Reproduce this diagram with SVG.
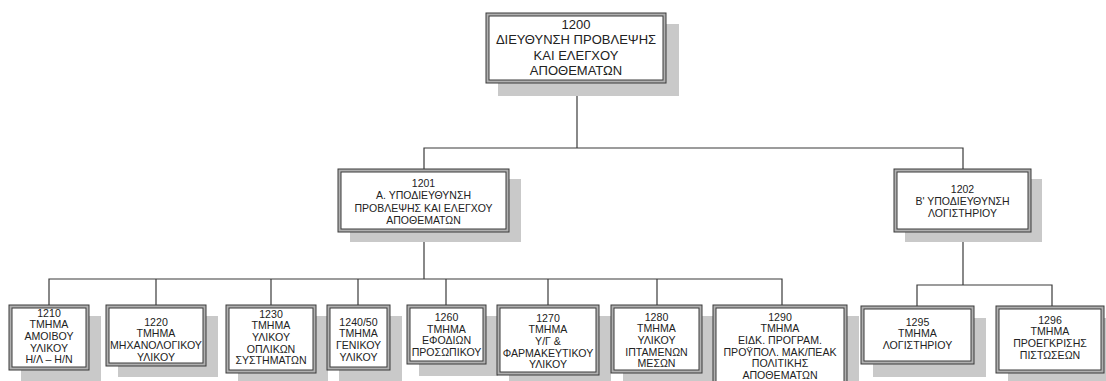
<svg xmlns="http://www.w3.org/2000/svg" width="1106" height="381" viewBox="0 0 1106 381">
<style>
.sh{fill:#c9c9c9;stroke:none}
.bo{fill:#b0b0b0;stroke:#3a3a3a;stroke-width:1}
.bi{fill:#ffffff;stroke:#3a3a3a;stroke-width:1}
.c{fill:none;stroke:#3a3a3a;stroke-width:1.2}
text{font-family:"Liberation Sans",Arial,sans-serif;fill:#222222;text-anchor:middle}
.t1{font-size:13px}
.t2{font-size:10.5px}
.t3{font-size:10.6px}
</style>
<rect width="1106" height="381" fill="#ffffff"/>
<g id="connectors">
<polyline class="c" points="577,83 577,148"/>
<polyline class="c" points="424,169 424,148 963,148 963,169"/>
<polyline class="c" points="424,232 424,279"/>
<polyline class="c" points="49,305 49,279 782,279 782,305"/>
<line class="c" x1="156" y1="279" x2="156" y2="305"/>
<line class="c" x1="271" y1="279" x2="271" y2="305"/>
<line class="c" x1="358" y1="279" x2="358" y2="305"/>
<line class="c" x1="446" y1="279" x2="446" y2="305"/>
<line class="c" x1="548" y1="279" x2="548" y2="305"/>
<line class="c" x1="657" y1="279" x2="657" y2="305"/>
<polyline class="c" points="963,232 963,285"/>
<polyline class="c" points="917,306 917,285 1052,285 1052,306"/>
</g>
<g id="n1200">
<rect class="sh" x="498" y="24" width="181" height="72"/>
<rect class="bo" x="486" y="13" width="180" height="70"/>
<rect class="bi" x="489" y="16" width="174" height="64"/>
<text class="t1"><tspan x="576" y="28.5">1200</tspan><tspan x="576" y="44">ΔΙΕΥΘΥΝΣΗ ΠΡΟΒΛΕΨΗΣ</tspan><tspan x="576" y="59.5">ΚΑΙ ΕΛΕΓΧΟΥ</tspan><tspan x="576" y="75">ΑΠΟΘΕΜΑΤΩΝ</tspan></text>
</g>
<g id="n1201">
<rect class="sh" x="350" y="179" width="171" height="63"/>
<rect class="bo" x="338" y="169" width="171" height="63"/>
<rect class="bi" x="341" y="172" width="165" height="57"/>
<text class="t2"><tspan x="423.5" y="186.7">1201</tspan><tspan x="423.5" y="199.2">Α. ΥΠΟΔΙΕΥΘΥΝΣΗ</tspan><tspan x="423.5" y="211.7">ΠΡΟΒΛΕΨΗΣ ΚΑΙ ΕΛΕΓΧΟΥ</tspan><tspan x="423.5" y="224.2">ΑΠΟΘΕΜΑΤΩΝ</tspan></text>
</g>
<g id="n1202">
<rect class="sh" x="905" y="179" width="137" height="63"/>
<rect class="bo" x="894" y="169" width="137" height="63"/>
<rect class="bi" x="897" y="172" width="131" height="57"/>
<text class="t2"><tspan x="962.5" y="192.7">1202</tspan><tspan x="962.5" y="204.7">Β' ΥΠΟΔΙΕΥΘΥΝΣΗ</tspan><tspan x="962.5" y="216.7">ΛΟΓΙΣΤΗΡΙΟΥ</tspan></text>
</g>
<g id="n1210">
<rect class="sh" x="21" y="316" width="80" height="65"/>
<rect class="bo" x="9" y="305" width="80" height="65"/>
<rect class="bi" x="12" y="308" width="74" height="59"/>
<text class="t3"><tspan x="49" y="316.7">1210</tspan><tspan x="49" y="328.3">ΤΜΗΜΑ</tspan><tspan x="49" y="339.9">ΑΜΟΙΒΟΥ</tspan><tspan x="49" y="351.5">ΥΛΙΚΟΥ</tspan><tspan x="49" y="363.1">Η/Λ – Η/Ν</tspan></text>
</g>
<g id="n1220">
<rect class="sh" x="118" y="316" width="100" height="61"/>
<rect class="bo" x="106" y="305" width="100" height="61"/>
<rect class="bi" x="109" y="308" width="94" height="55"/>
<text class="t3"><tspan x="156" y="325.7">1220</tspan><tspan x="156" y="337.3">ΤΜΗΜΑ</tspan><tspan x="156" y="348.9">ΜΗΧΑΝΟΛΟΓΙΚΟΥ</tspan><tspan x="156" y="360.5">ΥΛΙΚΟΥ</tspan></text>
</g>
<g id="n1230">
<rect class="sh" x="238" y="316" width="90" height="68"/>
<rect class="bo" x="226" y="305" width="90" height="68"/>
<rect class="bi" x="229" y="308" width="84" height="62"/>
<text class="t3"><tspan x="271" y="317.7">1230</tspan><tspan x="271" y="329.3">ΤΜΗΜΑ</tspan><tspan x="271" y="340.9">ΥΛΙΚΟΥ</tspan><tspan x="271" y="352.5">ΟΠΛΙΚΩΝ</tspan><tspan x="271" y="364.1">ΣΥΣΤΗΜΑΤΩΝ</tspan></text>
</g>
<g id="n1240">
<rect class="sh" x="339" y="316" width="63" height="65"/>
<rect class="bo" x="327" y="305" width="63" height="65"/>
<rect class="bi" x="330" y="308" width="57" height="59"/>
<text class="t3"><tspan x="358.5" y="325.7">1240/50</tspan><tspan x="358.5" y="337.3">ΤΜΗΜΑ</tspan><tspan x="358.5" y="348.9">ΓΕΝΙΚΟΥ</tspan><tspan x="358.5" y="360.5">ΥΛΙΚΟΥ</tspan></text>
</g>
<g id="n1260">
<rect class="sh" x="419" y="316" width="79" height="60"/>
<rect class="bo" x="407" y="305" width="79" height="59"/>
<rect class="bi" x="410" y="308" width="73" height="53"/>
<text class="t3"><tspan x="446.5" y="321.2">1260</tspan><tspan x="446.5" y="332.8">ΤΜΗΜΑ</tspan><tspan x="446.5" y="344.4">ΕΦΟΔΙΩΝ</tspan><tspan x="446.5" y="356">ΠΡΟΣΩΠΙΚΟΥ</tspan></text>
</g>
<g id="n1270">
<rect class="sh" x="509" y="316" width="102" height="70"/>
<rect class="bo" x="497" y="305" width="102" height="70"/>
<rect class="bi" x="500" y="308" width="96" height="64"/>
<text class="t3"><tspan x="548" y="321.7">1270</tspan><tspan x="548" y="333.3">ΤΜΗΜΑ</tspan><tspan x="548" y="344.9">Υ/Γ &amp;</tspan><tspan x="548" y="356.5">ΦΑΡΜΑΚΕΥΤΙΚΟΥ</tspan><tspan x="548" y="368.1">ΥΛΙΚΟΥ</tspan></text>
</g>
<g id="n1280">
<rect class="sh" x="623" y="316" width="91" height="68"/>
<rect class="bo" x="611" y="305" width="91" height="68"/>
<rect class="bi" x="614" y="308" width="85" height="62"/>
<text class="t3"><tspan x="656.5" y="320.7">1280</tspan><tspan x="656.5" y="332.3">ΤΜΗΜΑ</tspan><tspan x="656.5" y="343.9">ΥΛΙΚΟΥ</tspan><tspan x="656.5" y="355.5">ΙΠΤΑΜΕΝΩΝ</tspan><tspan x="656.5" y="367.1">ΜΕΣΩΝ</tspan></text>
</g>
<g id="n1290">
<rect class="sh" x="725" y="316" width="134" height="80"/>
<rect class="bo" x="713" y="305" width="134" height="80"/>
<rect class="bi" x="716" y="308" width="128" height="74"/>
<text class="t3"><tspan x="780" y="320.7">1290</tspan><tspan x="780" y="332.3">ΤΜΗΜΑ</tspan><tspan x="780" y="343.9">ΕΙΔΚ. ΠΡΟΓΡΑΜ.</tspan><tspan x="780" y="355.5">ΠΡΟΫΠΟΛ. ΜΑΚ/ΠΕΑΚ</tspan><tspan x="780" y="367.1">ΠΟΛΙΤΙΚΗΣ</tspan><tspan x="780" y="378.7">ΑΠΟΘΕΜΑΤΩΝ</tspan></text>
</g>
<g id="n1295">
<rect class="sh" x="873" y="318" width="113" height="59"/>
<rect class="bo" x="861" y="306" width="113" height="58"/>
<rect class="bi" x="864" y="309" width="107" height="52"/>
<text class="t3"><tspan x="917.5" y="325.7">1295</tspan><tspan x="917.5" y="337.3">ΤΜΗΜΑ</tspan><tspan x="917.5" y="348.9">ΛΟΓΙΣΤΗΡΙΟΥ</tspan></text>
</g>
<g id="n1296">
<rect class="sh" x="1008" y="318" width="98" height="66"/>
<rect class="bo" x="996" y="306" width="108" height="67"/>
<rect class="bi" x="999" y="309" width="102" height="61"/>
<text class="t3"><tspan x="1050" y="323.7">1296</tspan><tspan x="1050" y="335.3">ΤΜΗΜΑ</tspan><tspan x="1050" y="346.9">ΠΡΟΕΓΚΡΙΣΗΣ</tspan><tspan x="1050" y="358.5">ΠΙΣΤΩΣΕΩΝ</tspan></text>
</g>
</svg>
